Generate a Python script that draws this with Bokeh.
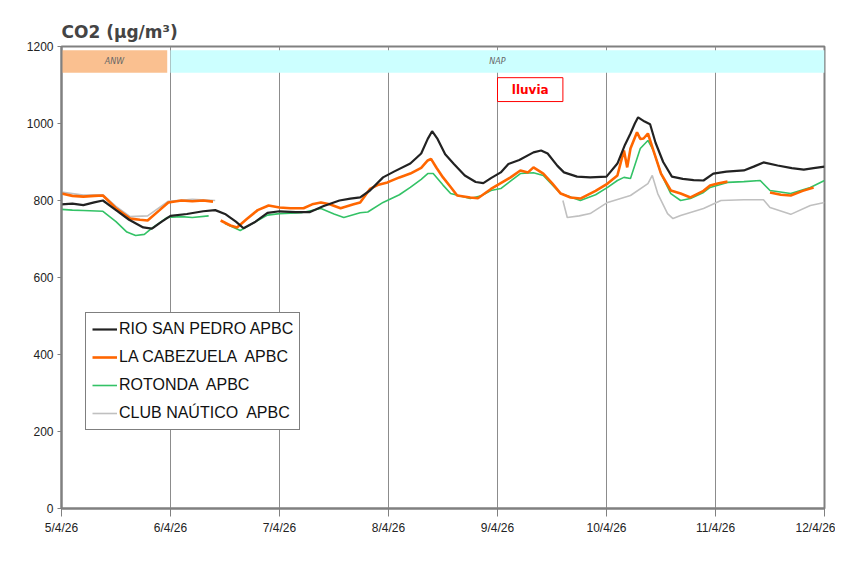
import math
from bokeh.plotting import figure
from bokeh.models import Range1d, FixedTicker, Legend, LegendItem, ColumnDataSource
from bokeh.embed import file_html
from bokeh.resources import INLINE
from bokeh.core.properties import value

nan = float("nan")

# ---- data (x in days of April 2026, values in µg/m³) ----
day_ticks = [5, 6, 7, 8, 9, 10, 11, 12]
day_labels = ["5/4/26", "6/4/26", "7/4/26", "8/4/26", "9/4/26", "10/4/26", "11/4/26", "12/4/26"]
y_ticks = [0, 200, 400, 600, 800, 1000, 1200]

rsp_day = [5.0, 5.1, 5.2, 5.3, 5.38, 5.5, 5.62, 5.75, 5.83, 5.92, 6.0, 6.15, 6.3, 6.41, 6.5, 6.6, 6.67,
           6.78, 6.89, 7.0, 7.15, 7.28, 7.4, 7.55, 7.65, 7.74, 7.83, 7.95, 8.05, 8.2, 8.3, 8.36, 8.4,
           8.45, 8.52, 8.6, 8.7, 8.8, 8.87, 8.94, 9.03, 9.1, 9.2, 9.33, 9.4, 9.46, 9.55, 9.61, 9.73,
           9.85, 10.0, 10.1, 10.17, 10.22, 10.26, 10.29, 10.35, 10.4, 10.45, 10.52, 10.6, 10.7, 10.8,
           10.89, 10.98, 11.1, 11.26, 11.35, 11.44, 11.57, 11.7, 11.81, 11.9, 12.0]
rsp_val = [790, 792, 788, 795, 800, 775, 750, 730, 727, 745, 760, 765, 772, 775, 765, 745, 728,
           745, 768, 772, 770, 770, 785, 800, 805, 808, 826, 860, 875, 896, 922, 960, 980,
           960, 920, 895, 865, 848, 845, 858, 873, 895, 905, 925, 930, 922, 890, 873, 862,
           860, 862, 896, 945, 974, 1000, 1016, 1005, 998, 950, 900, 862, 856, 853,
           852, 870, 875, 878, 888, 899, 891, 884, 880, 884, 888]

cab_day = [5.0, 5.1, 5.2, 5.3, 5.38, 5.5, 5.63, 5.72, 5.79, 5.9, 5.98, 6.1, 6.2, 6.3, 6.39, 6.42,
           6.46, 6.55, 6.61, 6.7, 6.8, 6.9, 7.0, 7.1, 7.22, 7.3, 7.38, 7.46, 7.56, 7.62, 7.68, 7.74,
           7.83, 7.9, 7.99, 8.1, 8.2, 8.3, 8.36, 8.39, 8.44, 8.5, 8.57, 8.63, 8.75, 8.82, 8.94, 9.03,
           9.12, 9.21, 9.28, 9.33, 9.42, 9.5, 9.58, 9.67, 9.76, 9.9, 10.01, 10.1, 10.16, 10.19, 10.22,
           10.28, 10.31, 10.34, 10.38, 10.43, 10.5, 10.59, 10.68, 10.77, 10.89, 10.95, 11.03, 11.11,
           11.3, 11.5, 11.6, 11.69, 11.8, 11.9]
cab_val = [818, 812, 810, 812, 813, 780, 753, 750, 748, 775, 795, 800, 798, 800, 797, nan,
           748, 735, 730, 752, 775, 787, 782, 780, 780, 790, 795, 790, 780, 785, 790, 795,
           830, 840, 847, 860, 870, 885, 904, 908, 885, 860, 835, 813, 808, 806, 830, 845,
           860, 878, 873, 886, 870, 845, 818, 808, 805, 825, 844, 865, 930, 886, 935,
           977, 960, 961, 974, 930, 870, 826, 818, 808, 825, 839, 845, 849,
           nan, 821, 815, 813, 825, 834]

rot_day = [5.0, 5.1, 5.2, 5.38, 5.5, 5.6, 5.68, 5.76, 5.83, 5.97, 6.1, 6.2, 6.35, 6.42,
           6.5, 6.64, 6.75, 6.89, 7.0, 7.2, 7.38, 7.5, 7.59, 7.74, 7.81, 7.95, 8.1, 8.2, 8.3, 8.36,
           8.41, 8.5, 8.57, 8.75, 8.85, 8.94, 9.03, 9.21, 9.33, 9.42, 9.58, 9.76, 9.9, 10.01, 10.1,
           10.16, 10.22, 10.31, 10.38, 10.43, 10.5, 10.59, 10.68, 10.77, 10.89, 10.95, 11.11, 11.26,
           11.41, 11.5, 11.69, 11.87, 12.0]
rot_val = [777, 775, 774, 772, 745, 718, 709, 712, 728, 756, 758, 756, 760, nan,
           740, 722, 740, 762, 766, 768, 779, 765, 756, 768, 770, 795, 815, 834, 855, 870,
           870, 840, 818, 805, 812, 826, 831, 870, 872, 865, 818, 800, 815, 834, 852,
           860, 857, 935, 956, 930, 870, 818, 800, 805, 821, 834, 847, 849,
           852, 826, 818, 834, 852]

cn_day = [5.0, 5.2, 5.38, 5.5, 5.63, 5.79, 5.98, 6.2, 6.41, 8.0,
          9.6, 9.64, 9.75, 9.85, 10.01, 10.22, 10.38, 10.42, 10.47, 10.56, 10.61, 10.68, 10.89,
          11.05, 11.26, 11.44, 11.5, 11.69, 11.87, 12.0]
cn_val = [822, 814, 815, 785, 758, 760, 798, 803, 800, nan,
          800, 756, 760, 766, 795, 813, 844, 865, 818, 766, 753, 761, 779,
          800, 802, 802, 782, 764, 787, 795]

periods = ["ANW", "NAP"]
period_start = [5.0, 6.0]
period_end = [5.97, 12.0]
period_colors = ["#FAC090", "#CCFFFF"]

rain_label = "lluvia"
rain_start = 9.0
rain_end = 9.6

# ---- figure ----
p = figure(width=835, height=548, output_backend="svg", toolbar_location=None,
           x_range=Range1d(5, 12), y_range=Range1d(0, 1200),
           min_border_left=61, min_border_right=11, min_border_top=46, min_border_bottom=40)
p.background_fill_color = "white"
p.border_fill_color = "white"
p.outline_line_color = "#808080"
p.outline_line_width = 2

p.title.text = "CO2 (µg/m³)"
p.title.text_font = "DejaVu Sans"
p.title.text_font_style = "bold"
p.title.text_font_size = "17px"
p.title.align = "left"
p.title.standoff = 10

# axes
p.xaxis.ticker = FixedTicker(ticks=day_ticks)
p.xaxis.major_label_overrides = {d: l for d, l in zip(day_ticks, day_labels)}
p.yaxis.ticker = FixedTicker(ticks=y_ticks)
for ax in (p.xaxis, p.yaxis):
    ax.axis_line_color = "#808080"
    ax.axis_line_width = 2
    ax.major_tick_line_color = "#808080"
    ax.minor_tick_line_color = None
    ax.major_label_text_font = "Liberation Sans"
    ax.major_label_text_font_size = "12px"
    ax.major_label_text_color = "#222222"
    ax.major_tick_in = 0
p.xaxis.major_tick_out = 8
p.yaxis.major_tick_out = 4
p.xaxis.major_label_standoff = 4
p.yaxis.major_label_standoff = 4

p.xgrid.ticker = FixedTicker(ticks=day_ticks)
p.xgrid.grid_line_color = "#8c8c8c"
p.xgrid.grid_line_width = 1
p.ygrid.visible = False

# period bands
band_src = ColumnDataSource(dict(left=period_start, right=period_end, name=periods,
                                 color=period_colors,
                                 mid=[(a + b) / 2 for a, b in zip(period_start, period_end)]))
p.quad(left="left", right="right", bottom=1132, top=1190, fill_color="color",
       line_color=None, source=band_src)
p.text(x="mid", y=1161, text="name", source=band_src, text_align="center",
       text_baseline="middle", text_font=value("DejaVu Sans"), text_font_size="8px",
       text_font_style="italic", text_color="#666666")

# rain box
p.quad(left=[rain_start], right=[rain_end], bottom=[1057], top=[1119], fill_color="white",
       line_color="#FF0000", line_width=1)
p.text(x=[(rain_start + rain_end) / 2], y=[1088], text=[rain_label], text_align="center",
       text_baseline="middle", text_font=value("DejaVu Sans"), text_font_size="12px",
       text_font_style="bold", text_color="#FF0000")

# series (drawn back to front)
r_cn = p.line(cn_day, cn_val, line_color="#C0C0C0", line_width=1.6)
r_rot = p.line(rot_day, rot_val, line_color="#33C266", line_width=1.6)
r_cab = p.line(cab_day, cab_val, line_color="#FF6600", line_width=2.6)
r_rsp = p.line(rsp_day, rsp_val, line_color="#222222", line_width=2.2)

legend = Legend(items=[
    LegendItem(label="RIO SAN PEDRO APBC", renderers=[r_rsp]),
    LegendItem(label="LA CABEZUELA  APBC", renderers=[r_cab]),
    LegendItem(label="ROTONDA  APBC", renderers=[r_rot]),
    LegendItem(label="CLUB NAÚTICO  APBC", renderers=[r_cn]),
], location=(24, 78))
legend.border_line_color = "black"
legend.border_line_width = 1
legend.background_fill_color = "white"
legend.background_fill_alpha = 1
legend.label_text_font = "Liberation Sans"
legend.label_text_font_size = "16px"
legend.label_text_color = "#111111"
legend.glyph_width = 25
legend.glyph_height = 20
legend.label_height = 20
legend.spacing = 8
legend.padding = 6
legend.margin = 0
legend.label_standoff = 2
p.add_layout(legend)

open("out.html", "w").write(file_html(p, INLINE))
